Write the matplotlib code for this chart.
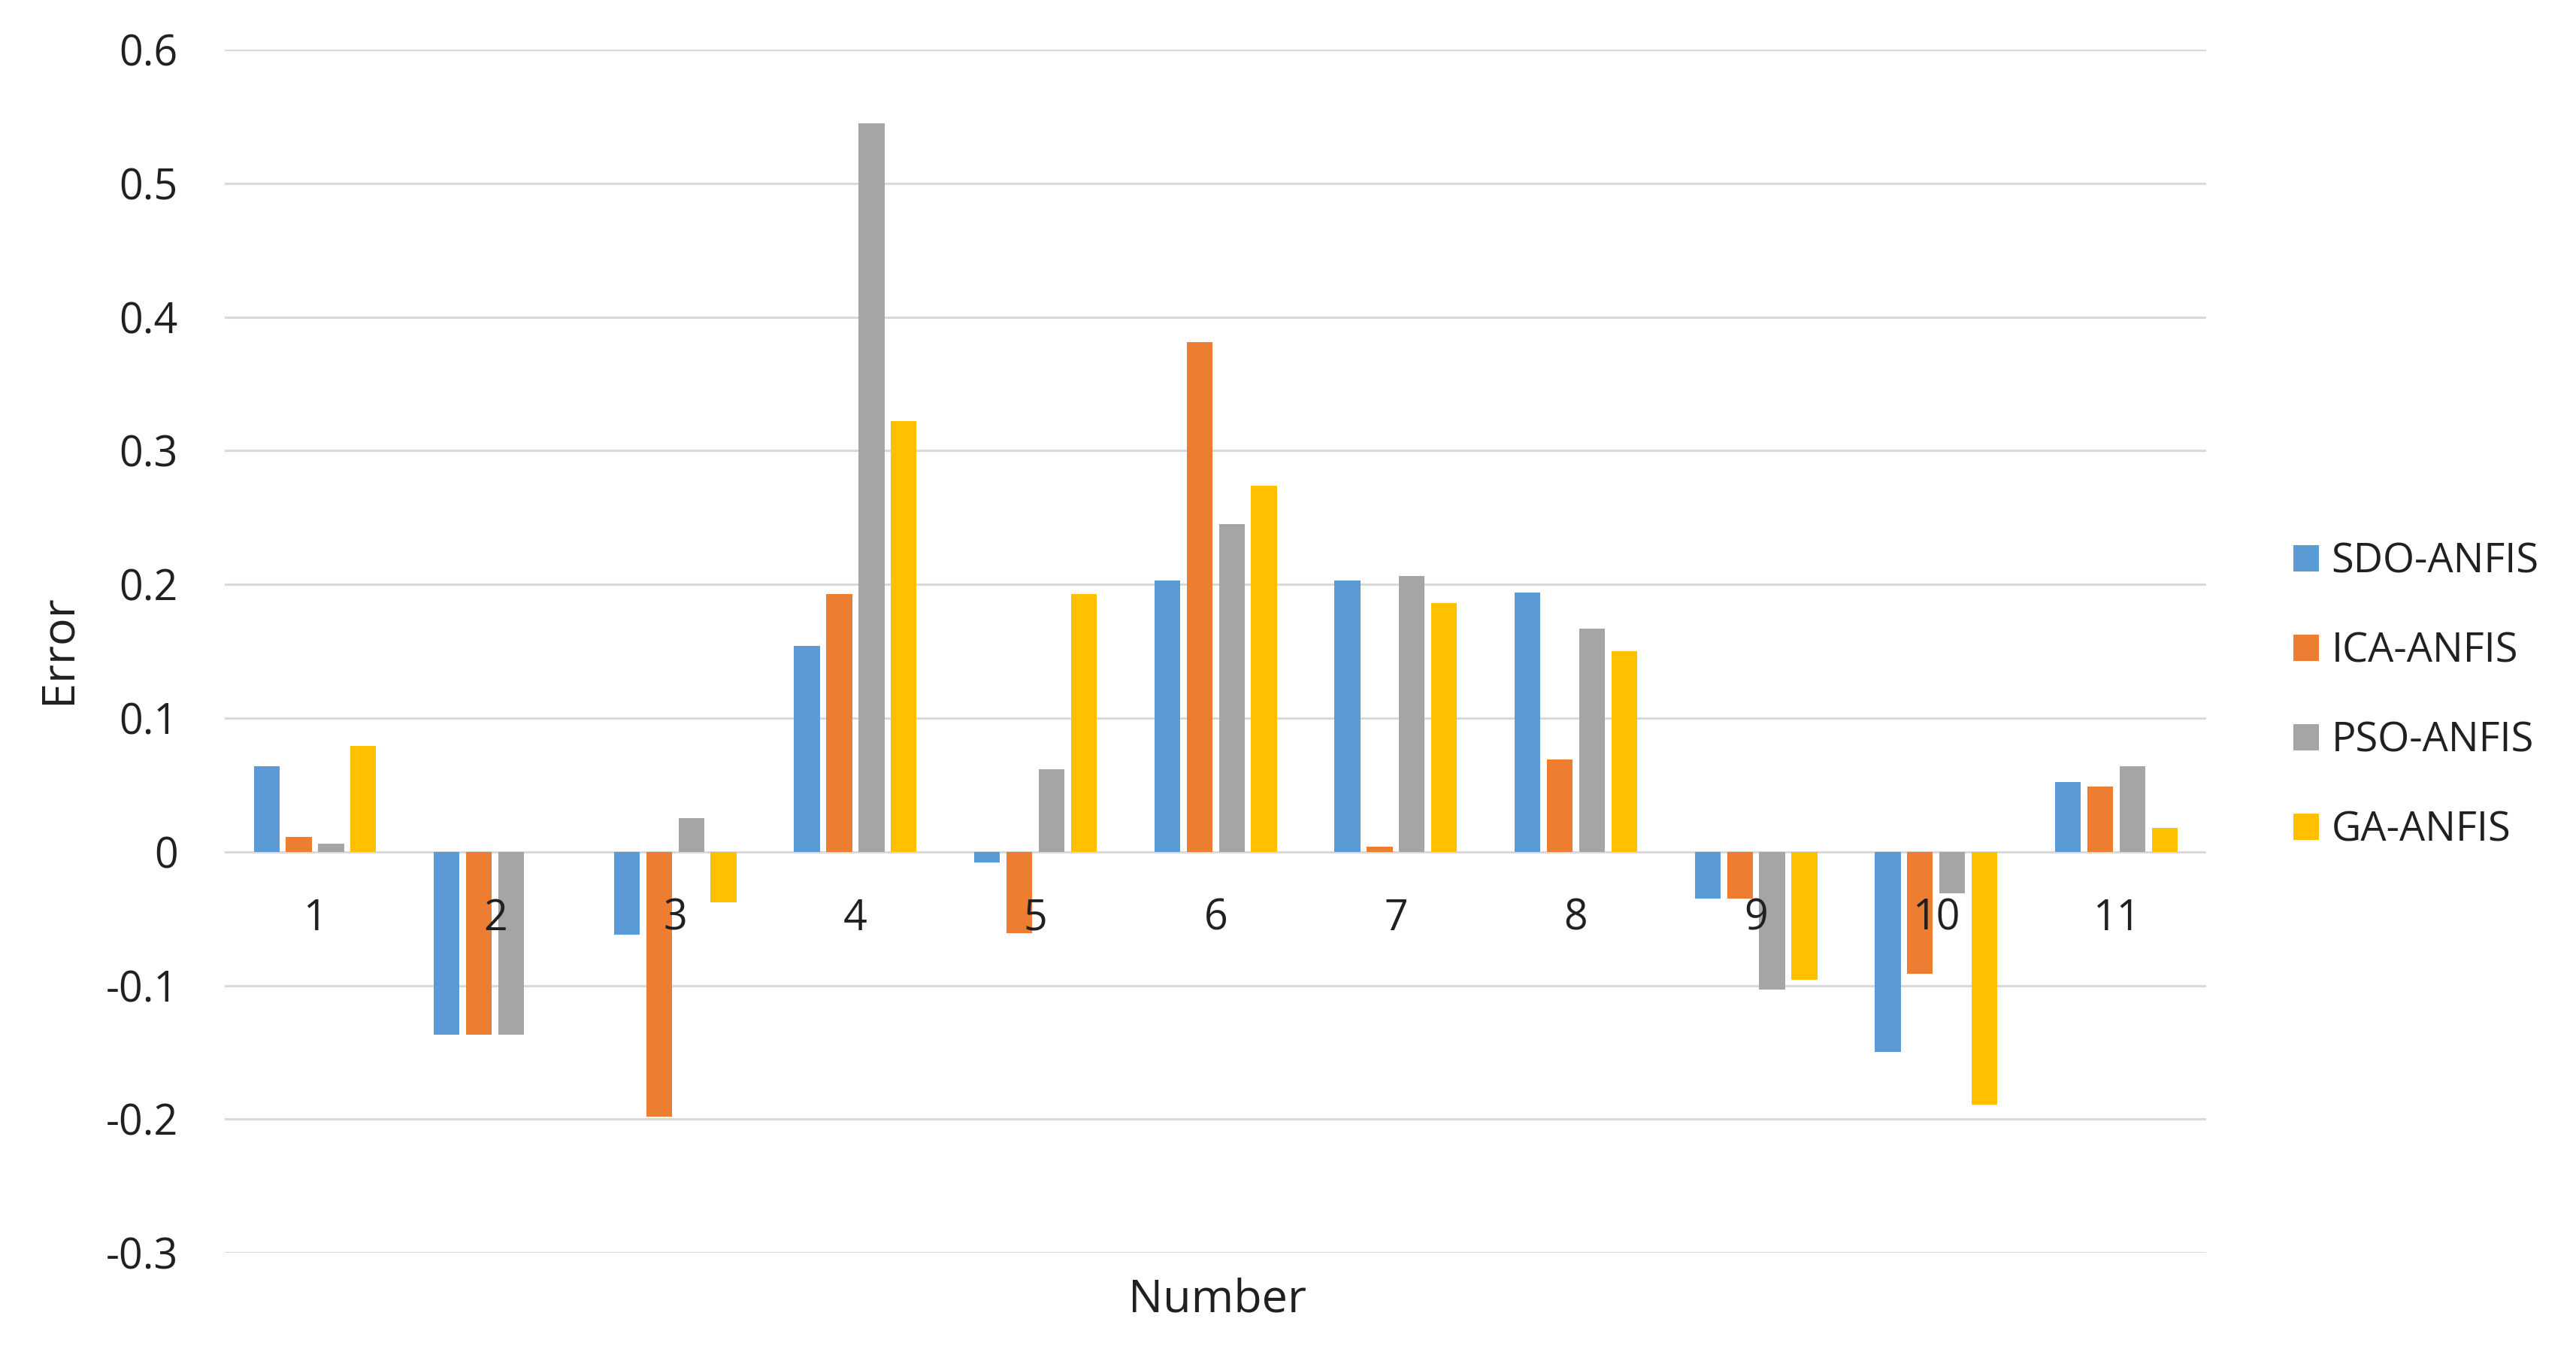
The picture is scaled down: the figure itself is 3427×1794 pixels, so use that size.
import matplotlib.pyplot as plt
import numpy as np
from matplotlib.patches import Patch

# Data
numbers = ['1', '2', '3', '4', '5', '6', '7', '8', '9', '10', '11']
series_names = ['SDO-ANFIS', 'ICA-ANFIS', 'PSO-ANFIS', 'GA-ANFIS']
sdo = [0.064, -0.137, -0.062, 0.154, -0.008, 0.203, 0.203, 0.194, -0.035, -0.150, 0.052]
ica = [0.011, -0.137, -0.198, 0.193, -0.061, 0.381, 0.004, 0.069, -0.035, -0.091, 0.049]
pso = [0.006, -0.137, 0.025, 0.545, 0.062, 0.245, 0.206, 0.167, -0.103, -0.031, 0.064]
ga = [0.079, 0.0, -0.038, 0.322, 0.193, 0.274, 0.186, 0.150, -0.096, -0.189, 0.018]
colors = ['#5B9BD5', '#ED7D31', '#A5A5A5', '#FFC000']

plt.rcParams['font.family'] = ['Open Sans', 'DejaVu Sans']
text_color = '#202020'

fig = plt.figure(figsize=(34.27, 17.94), dpi=100)
ax = fig.add_axes([0.0873, 0.0713, 0.8565 - 0.0873, 0.9632 - 0.0713])

x = np.arange(len(numbers))
width = 0.143
pitch = 0.179
for i, (vals, c) in enumerate(zip([sdo, ica, pso, ga], colors)):
    ax.bar(x + (i - 1.5) * pitch, vals, width, color=c, zorder=3)

ax.set_ylim(-0.3, 0.6)
ax.set_xlim(-0.5, len(numbers) - 0.5)
ax.set_yticks(np.arange(-0.3, 0.61, 0.1))
ax.set_yticklabels(['-0.3', '-0.2', '-0.1', '0', '0.1', '0.2', '0.3', '0.4', '0.5', '0.6'])
ax.grid(axis='y', color='#D9D9D9', linewidth=2.2, zorder=0)

# category labels sit just under the zero line (Excel style), drawn over the bars
ax.spines['bottom'].set_position(('data', 0))
for s in ax.spines.values():
    s.set_visible(False)
ax.set_xticks(x)
ax.set_xticklabels(numbers)
ax.xaxis.set_zorder(5)
ax.tick_params(axis='x', length=0, pad=44, labelsize=40, labelcolor=text_color)
ax.tick_params(axis='y', length=0, pad=45, labelsize=40, labelcolor=text_color)

fig.text(0.4727, 1 - 1728 / 1794, 'Number', ha='center', va='center', fontsize=44, color=text_color)
fig.text(77 / 3427, 1 - 863 / 1794, 'Error', ha='center', va='center', rotation=90, fontsize=44, color=text_color)

# Legend
handles = [Patch(facecolor=c, edgecolor='none') for c in colors]
fig.legend(handles, series_names, loc='center left', bbox_to_anchor=(0.8903, 0.4841),
           frameon=False, fontsize=39, handlelength=0.63, handleheight=0.63,
           handletextpad=0.3, labelspacing=1.18, borderpad=0, borderaxespad=0,
           labelcolor=text_color)

plt.savefig('out.png', dpi=100)
